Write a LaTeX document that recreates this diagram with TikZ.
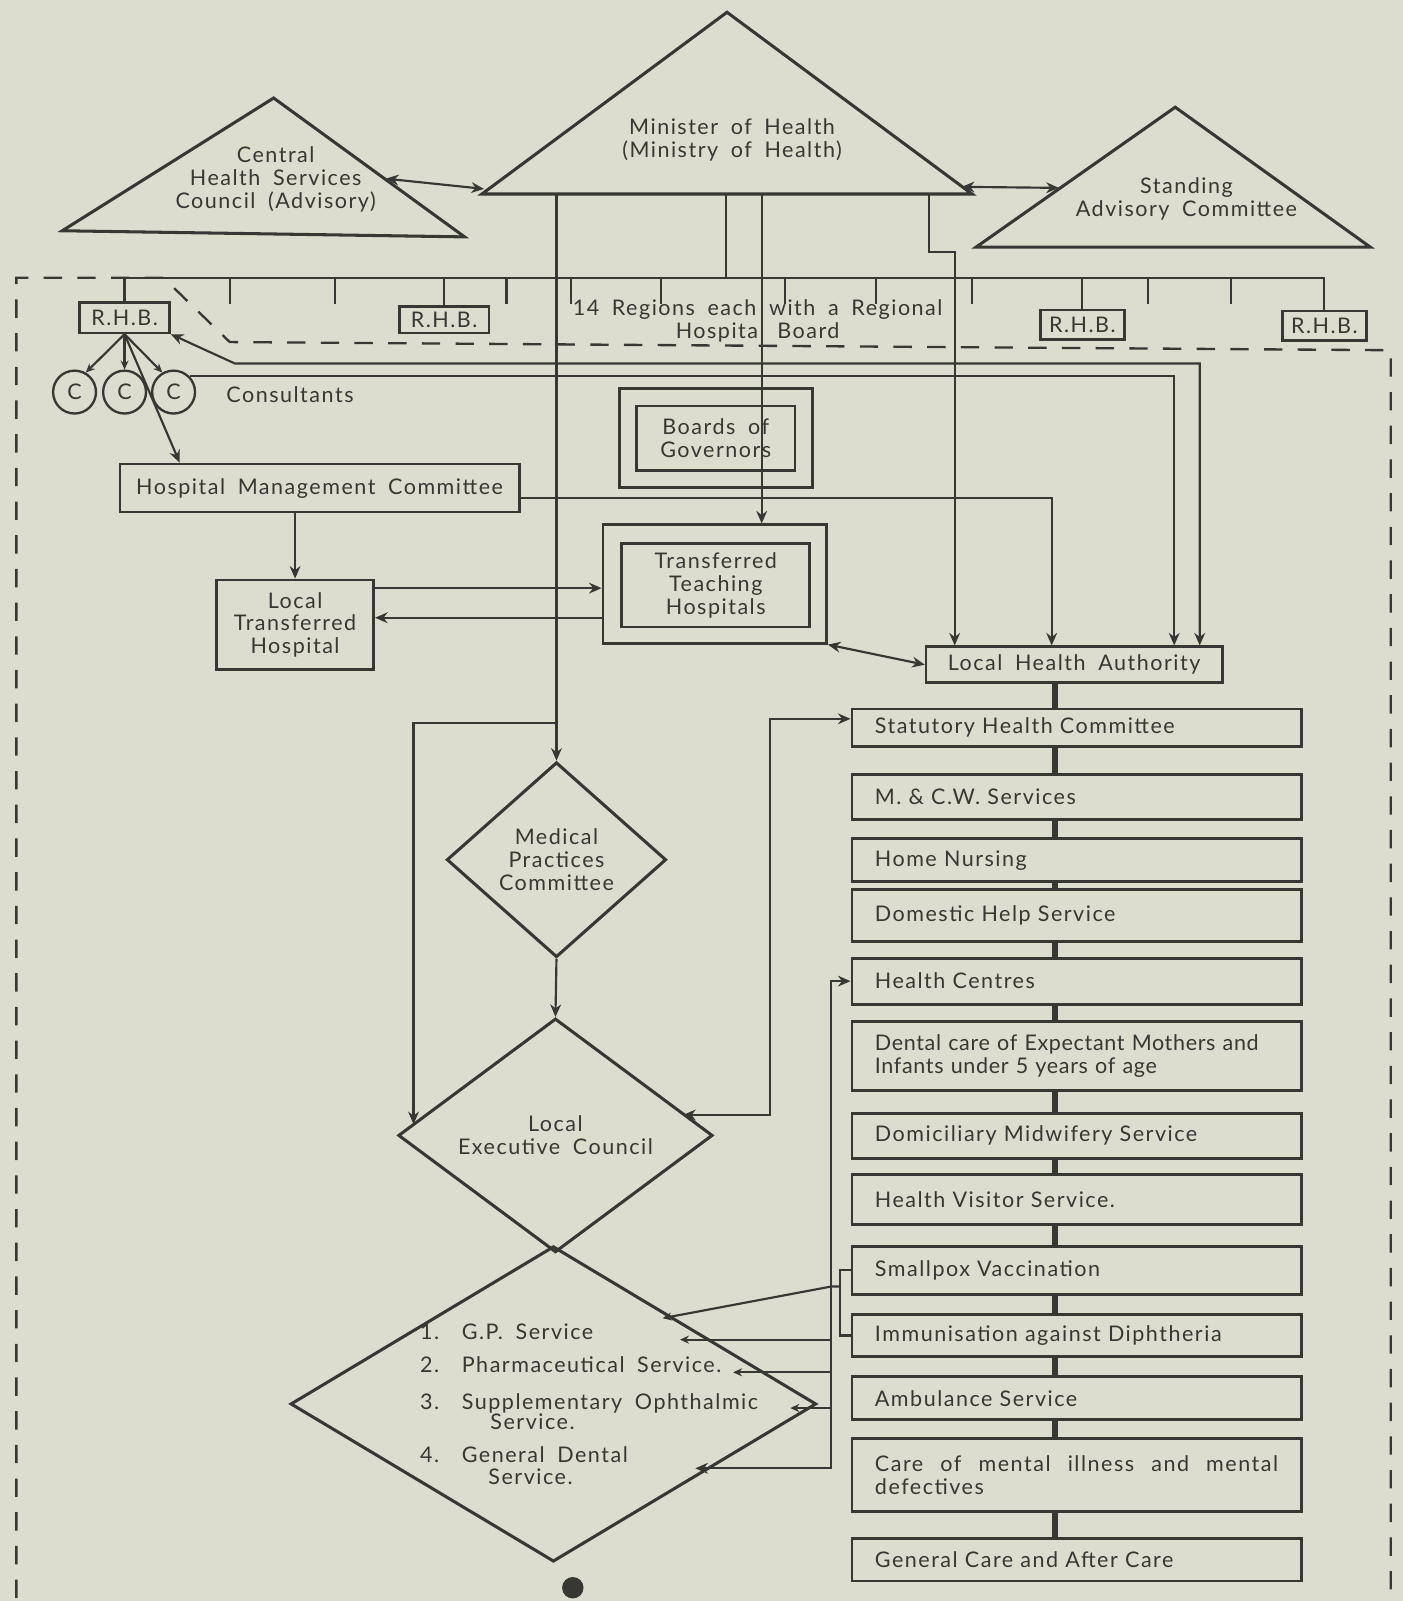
\documentclass[tikz,border=0pt]{standalone}
\usepackage{fontspec}
\setmainfont{Lato}[LetterSpace=7,WordSpace=1.8]
\usetikzlibrary{shapes.geometric,arrows.meta}
\definecolor{paper}{RGB}{221,221,207}
\definecolor{ink}{RGB}{55,55,52}

\begin{document}
\begin{tikzpicture}[x=0.02cm,y=-0.02cm,
    every node/.style={text=ink,font=\fontsize{12}{12.8}\selectfont},
    line/.style={draw=ink,line width=1.2pt},
    arr/.style={line,-{Stealth[length=7pt,width=6pt]}},
    darr/.style={line,{Stealth[length=7pt,width=6pt]}-{Stealth[length=7pt,width=6pt]}},
    sarr/.style={line,-{Stealth[length=5pt,width=4.5pt]}},
    box/.style={draw=ink,line width=1.5pt,inner sep=0pt,align=center},
    tri/.style={draw=ink,line width=1.7pt,line join=miter},
    dia/.style={diamond,draw=ink,line width=1.7pt,inner sep=0pt,align=center},
    svc/.style={draw=ink,line width=1.6pt,anchor=north west,minimum width=8.8cm,
        text width=7.9cm,inner xsep=0.45cm,inner ysep=0pt,align=left},
    joint/.style={draw=ink,line width=3.5pt},
    frame/.style={draw=ink,line width=1.3pt,dash pattern=on 0.36cm off 0.3cm},
    item/.style={anchor=mid west,inner sep=0pt}]

\fill[paper] (0,0) rectangle (1374,1568);
\useasboundingbox (0,0) rectangle (1374,1568);

% the three triangles
\coordinate (chsA) at (268,96);  \coordinate (chsL) at (61,226);  \coordinate (chsR) at (455,232);
\coordinate (minA) at (712,12);  \coordinate (minL) at (472,190); \coordinate (minR) at (952,190);
\coordinate (sacA) at (1151,105); \coordinate (sacL) at (956,242); \coordinate (sacR) at (1342,242);
\draw[tri] (chsA) -- (chsL) -- (chsR) -- cycle;
\draw[tri] (minA) -- (minL) -- (minR) -- cycle;
\draw[tri] (sacA) -- (sacL) -- (sacR) -- cycle;
\node at (270,176) [align=center] (chs) {Central\\Health Services\\Council (Advisory)};
\node at (717,137) [align=center] (min) {Minister of Health\\(Ministry of Health)};
\node at (1162,195) [align=center] (sac) {Standing\\Advisory Committee};
\coordinate (chsE) at (378,175); \coordinate (minW) at (474,185);
\coordinate (minE) at (942,183); \coordinate (sacW) at (1037,184);
\draw[darr] (chsE) -- (minW);
\draw[darr] (minE) -- (sacW);

% dashed frame
\draw[frame] (16,1565) -- (16,272) -- (160,272) -- (225,335) -- (1362,343) -- (1362,1565);

% regional hospital boards
\coordinate (bus) at (0,272);
\node at (122,311) [box,minimum width=1.76cm,minimum height=0.6cm] (rhb1) {R.H.B.};
\node at (435,313) [box,minimum width=1.76cm,minimum height=0.52cm] (rhb2) {R.H.B.};
\node at (1060,318) [box,minimum width=1.64cm,minimum height=0.58cm] (rhb3) {R.H.B.};
\node at (1297,319) [box,minimum width=1.64cm,minimum height=0.58cm] (rhb4) {R.H.B.};
\draw[line] (rhb1.north) -- (rhb1.north |- bus) -- (rhb4.north |- bus) -- (rhb4.north);
\draw[line] (rhb2.north) -- (rhb2.north |- bus);
\draw[line] (rhb3.north) -- (rhb3.north |- bus);
\foreach \x in {225,328,496,559,647,769,858,952,1124,1206}
    \draw[line] (\x,272) -- (\x,298);
\node at (742,314) [align=center] (regions) {14 Regions each with a Regional\\Hospital Board};

% consultants
\node at (73,384) [circle,draw=ink,line width=1.3pt,minimum size=0.84cm,inner sep=0pt] (c1) {C};
\node at (122,384) [circle,draw=ink,line width=1.3pt,minimum size=0.84cm,inner sep=0pt] (c2) {C};
\node at (170,384) [circle,draw=ink,line width=1.3pt,minimum size=0.84cm,inner sep=0pt] (c3) {C};
\node at (284,387) (cons) {Consultants};
\draw[sarr] (rhb1.south) -- (c1.60);
\draw[sarr] (rhb1.south) -- (c2.north);
\draw[sarr] (rhb1.south) -- (c3.120);

% hospitals
\node at (313,478) [box,minimum width=7.82cm,minimum height=0.94cm] (hmc) {Hospital Management Committee};
\node at (289,612) [box,minimum width=3.08cm,minimum height=1.76cm] (lth) {Local\\Transferred\\Hospital};
\node at (701,429) [box,minimum width=3.78cm,minimum height=1.94cm] (bogO) {};
\node at (701,429) [box,minimum width=3.1cm,minimum height=1.26cm] (bog) {Boards of\\Governors};
\node at (700,572) [box,minimum width=4.38cm,minimum height=2.32cm] (tthO) {};
\node at (701,573) [box,minimum width=3.68cm,minimum height=1.64cm] (tth) {Transferred\\Teaching\\Hospitals};
\node at (1052,651) [box,minimum width=5.8cm,minimum height=0.7cm] (lha) {Local Health Authority};
\draw[arr] (rhb1.south) -- (176,0 |- hmc.north);
\draw[arr] (lth.north |- hmc.south) -- (lth.north);
\draw[arr] (lth.east |- 0,576) -- (tthO.west |- 0,576);
\draw[arr] (tthO.west |- 0,605) -- (lth.east |- 0,605);
\draw[darr] (tthO.south east) -- (lha.west);
\draw[darr] (rhb1.south east) -- (230,356) -- (1175,356) -- (1175,0 |- lha.north);
\draw[arr] (c3.45) -- (1150,0 |- c3.45) -- (1150,0 |- lha.north);
\draw[arr] (hmc.east |- 0,488) -- (1030,488) -- (1030,0 |- lha.north);

% committees of the executive council
\node at (545,842) [dia,minimum width=4.3cm,minimum height=3.82cm] (mpc) {Medical\\Practices\\Committee};
\node at (544,1112) [dia,minimum width=6.16cm,minimum height=4.34cm] (lec) {Local\\Executive Council};
\node at (542,1375) [dia,minimum width=10.3cm,minimum height=6.18cm] (fps) {};
\coordinate (lecNW) at (405,1101);
\coordinate (lecNE) at (669,1092);
\draw[arr] (mpc.south) -- (lec.north);

% lines from the Minister
\draw[arr] (mpc.north |- minL) -- (mpc.north);
\draw[arr] (mpc.north |- 0,708) -- (405,708) -- (lecNW);
\draw[line] (711,0 |- minL) -- (711,0 |- bus);
\draw[arr] (746,0 |- minL) -- (746,0 |- tthO.north);
\draw[arr] (910,0 |- minL) -- (910,247) -- (935,247) -- (935,0 |- lha.north);

% local health authority services
\node at (833,693) [svc,minimum height=0.74cm] (shc) {Statutory Health Committee};
\node at (833,757) [svc,minimum height=0.88cm] (mcw) {M. \& C.W. Services};
\node at (833,820) [svc,minimum height=0.84cm] (hn) {Home Nursing};
\node at (833,870) [svc,minimum height=1.02cm] (dhs) {Domestic Help Service};
\node at (833,937) [svc,minimum height=0.9cm] (hc) {Health Centres};
\node at (833,999) [svc,minimum height=1.36cm,
    font=\fontsize{12}{12.8}\selectfont\addfontfeatures{LetterSpace=3}] (dent) {Dental care of Expectant Mothers and\\Infants under 5 years of age};
\node at (833,1089) [svc,minimum height=0.88cm] (dms) {Domiciliary Midwifery Service};
\node at (833,1149) [svc,minimum height=0.98cm] (hvs) {Health Visitor Service.};
\node at (833,1219) [svc,minimum height=0.94cm] (spv) {Smallpox Vaccination};
\node at (833,1286) [svc,minimum height=0.82cm] (imm) {Immunisation against Diphtheria};
\node at (833,1347) [svc,minimum height=0.84cm] (amb) {Ambulance Service};
\node at (833,1407) [svc,minimum height=1.44cm,align=justify] (cmi) {Care of mental illness and mental\linebreak defectives};
\node at (833,1505) [svc,minimum height=0.84cm] (gca) {General Care and After Care};
\foreach \a/\b in {lha/shc,shc/mcw,mcw/hn,hn/dhs,dhs/hc,hc/dent,dent/dms,dms/hvs,hvs/spv,spv/imm,imm/amb,amb/cmi,cmi/gca}
    \draw[joint] (1033,0 |- \a.south) -- (1033,0 |- \b.north);
\coordinate (shcW) at (833,704);
\draw[darr] (shcW) -- (754,704) -- (754,1092) -- (lecNE);

% family practitioner services
\node at (411,1307) [item] (fp1) {\makebox[0.82cm][l]{1.}G.P. Service};
\node at (411,1340) [item] (fp2) {\makebox[0.82cm][l]{2.}Pharmaceutical Service.};
\node at (411,1376) [item] (fp3) {\makebox[0.82cm][l]{3.}Supplementary Ophthalmic};
\node at (480,1396) [item] (fp3b) {Service.};
\node at (411,1428) [item] (fp4) {\makebox[0.82cm][l]{4.}General Dental};
\node at (478,1449) [item] (fp4b) {Service.};
\coordinate (gpA) at (649,1291);
\coordinate (gpB) at (666,1312);
\coordinate (phA) at (718,1344);
\coordinate (soA) at (774,1379);
\coordinate (gdA) at (681,1438);
\draw[line] (spv.west) -| (823,1274) |- (imm.west);
\draw[darr] (gdA) -- (814,1438) -- (814,0 |- hc.west) -- (hc.west);
\draw[sarr] (823,1260) -- (814,1260) -- (gpA);
\draw[sarr] (814,1312) -- (gpB);
\draw[sarr] (814,1344) -- (phA);
\draw[sarr] (814,1379) -- (soA);

\node at (561,1555) [circle,fill=ink,minimum size=0.42cm,inner sep=0pt] (dot) {};
\end{tikzpicture}
\end{document}
